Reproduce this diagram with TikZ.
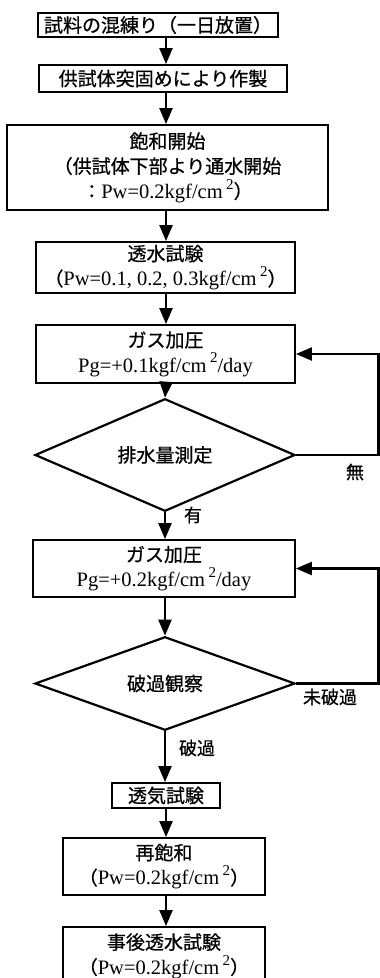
\documentclass[tikz,border=0pt]{standalone}
\usepackage{fontspec}
\setmainfont{Liberation Serif}
\newfontfamily\jpfont[FakeBold=0.7]{Noto Sans CJK JP}
\newcommand\jtx[1]{{\jpfont\fontsize{19}{25}\selectfont #1}}
\newcommand\sqtwo{\,\raisebox{.45em}{\fontsize{15}{15}\selectfont 2}}
\usetikzlibrary{arrows.meta,shapes.geometric}
\begin{document}
\begin{tikzpicture}[x=1pt,y=-1pt,
  txt/.style={font=\fontsize{20.5}{25}\selectfont, align=center, inner sep=0pt},
  box/.style={txt, draw, line width=1.8pt},
  dia/.style={txt, draw, diamond, line width=2.2pt},
  arr/.style={line width=2.2pt, -{Triangle[length=16pt,width=13pt]}},
  lbl/.style={font=\fontsize{18}{20}\selectfont\jpfont, inner sep=0pt}]
\useasboundingbox (0,0) rectangle (380,978);
\clip (0,0) rectangle (380,978);
\coordinate (ax) at (166,0);
\coordinate (rx) at (378.5,0);

\node[box, minimum width=240pt, minimum height=24pt] (b1) at (158,25) {\jtx{試料の混練り（一日放置）}};
\node[box, minimum width=248pt, minimum height=27pt] (b2) at (163,78.5) {\jtx{供試体突固めにより作製}};
\node[box, minimum width=321pt, minimum height=85pt] (b3) at (167.5,167.5) {\jtx{飽和開始}\\\jtx{（供試体下部より通水開始}\\\jtx{：}Pw=0.2kgf/cm\sqtwo\jtx{）}};
\node[box, minimum width=259pt, minimum height=51pt] (b4) at (165.5,267.5) {\jtx{透水試験}\\\jtx{（}Pw=0.1, 0.2, 0.3kgf/cm\sqtwo\jtx{）}};
\node[box, minimum width=259pt, minimum height=58pt] (b5) at (165.5,354) {\jtx{ガス加圧}\\Pg=+0.1kgf/cm\sqtwo/day};
\node[dia, minimum width=260pt, minimum height=84pt] (d1) at (165,455) {\jtx{排水量測定}};
\node[box, minimum width=262pt, minimum height=57pt] (b6) at (164,568.5) {\jtx{ガス加圧}\\Pg=+0.2kgf/cm\sqtwo/day};
\node[dia, minimum width=260pt, minimum height=83pt] (d2) at (165,683.5) {\jtx{破過観察}};
\node[box, minimum width=108pt, minimum height=25pt] (b7) at (166,795.5) {\jtx{透気試験}};
\node[box, minimum width=202pt, minimum height=57pt] (b8) at (164,866.5) {\jtx{再飽和}\\\jtx{（}Pw=0.2kgf/cm\sqtwo\jtx{）}};
\node[box, minimum width=202pt, minimum height=58pt] (b9) at (164,956) {\jtx{事後透水試験}\\\jtx{（}Pw=0.2kgf/cm\sqtwo\jtx{）}};

\node[lbl] (l1) at (355,472) {無};
\node[lbl] (l2) at (193,515) {有};
\node[lbl] (l3) at (330,697) {未破過};
\node[lbl] (l4) at (197,748) {破過};

\draw[arr] (b1.south -| ax) -- (b2.north -| ax);
\draw[arr] (b2.south -| ax) -- (b3.north -| ax);
\draw[arr] (b3.south -| ax) -- (b4.north -| ax);
\draw[arr] (b4.south -| ax) -- (b5.north -| ax);
\draw[arr] (b5.south -| ax) -- (d1.north);
\draw[arr] (d1.south) -- (b6.north -| d1.south);
\draw[arr] (b6.south -| d2.north) -- (d2.north);
\draw[arr] (d2.south) -- (b7.north -| d2.south);
\draw[arr] (b7.south -| ax) -- (b8.north -| ax);
\draw[arr] (b8.south -| ax) -- (b9.north -| ax);

\draw[arr] (d1.east) -- (d1.east -| rx) |- (b5.east);
\draw[arr] (d2.east) -- (d2.east -| rx) |- (b6.east);
\end{tikzpicture}
\end{document}
